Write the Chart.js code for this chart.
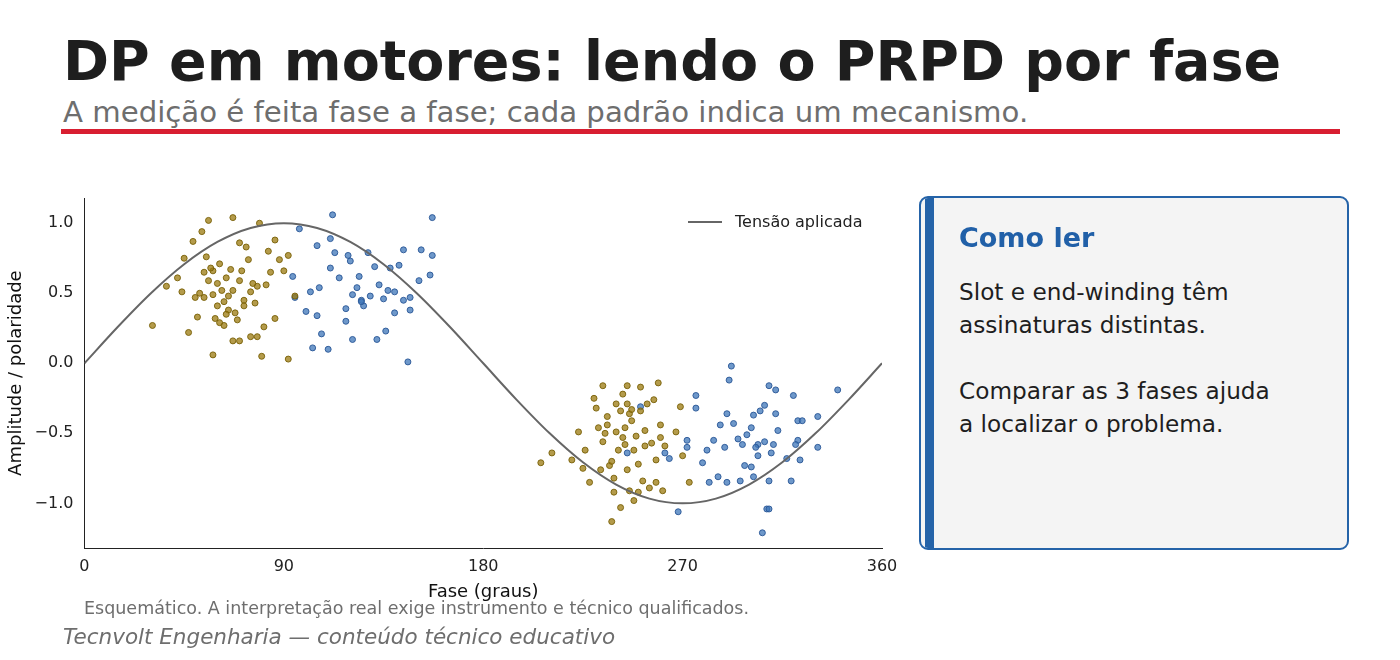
<!DOCTYPE html>
<html><head><meta charset="utf-8">
<script src="https://cdn.jsdelivr.net/npm/chart.js@4.4.1/dist/chart.umd.min.js"></script>
<style>
body{margin:0;width:1400px;height:660px;background:#fff;font-family:"DejaVu Sans",sans-serif;position:relative;overflow:hidden}
#t{position:absolute;left:63px;top:28px;font-size:55.5px;font-weight:bold;color:#1e1e1e;margin:0}
#s{position:absolute;left:63px;top:95px;font-size:29.2px;color:#6e6e6e}
#rl{position:absolute;left:61px;top:129px;width:1279px;height:5px;background:#d81e31}
#cw{position:absolute;left:0;top:185px;width:905px;height:422px}
#lg{position:absolute;left:688px;top:212px;font-size:16px;color:#222;display:flex;align-items:center}
#lg span{display:inline-block;width:34px;height:2px;background:#666;margin-right:13px}
#card{position:absolute;left:919px;top:196px;width:426px;height:350px;border:2px solid #2563a8;border-radius:9px;background:#f4f4f4;overflow:hidden}
#bar{position:absolute;left:4px;top:0;width:9px;height:100%;background:#2563a8}
#ch{position:absolute;left:38px;top:24px;font-size:27px;font-weight:bold;color:#2160a8}
#cb{position:absolute;left:38px;top:77px;font-size:23.2px;line-height:33px;color:#1e1e1e}
#n{position:absolute;left:84px;top:598px;font-size:17.5px;color:#6e6e6e}
#b{position:absolute;left:63px;top:624px;font-size:21.5px;color:#6e6e6e;font-style:italic}
</style></head><body>
<div id="t">DP em motores: lendo o PRPD por fase</div>
<div id="s">A medição é feita fase a fase; cada padrão indica um mecanismo.</div>
<div id="rl"></div>
<div id="cw"><canvas id="c"></canvas></div>
<div id="lg"><span></span>Tensão aplicada</div>
<div id="card"><div id="bar"></div><div id="ch">Como ler</div>
<div id="cb">Slot e end-winding têm<br>assinaturas distintas.<br><br>Comparar as 3 fases ajuda<br>a localizar o problema.</div></div>
<div id="n">Esquemático. A interpretação real exige instrumento e técnico qualificados.</div>
<div id="b">Tecnvolt Engenharia — conteúdo técnico educativo</div>
<script>
const phaseDeg=[0,15,30,45,60,75,90,105,120,135,150,165,180,195,210,225,240,255,270,285,300,315,330,345,360];
const voltage=[0,0.259,0.5,0.707,0.866,0.966,1,0.966,0.866,0.707,0.5,0.259,0,-0.259,-0.5,-0.707,-0.866,-0.966,-1,-0.966,-0.866,-0.707,-0.5,-0.259,0];
const goldUpper=[[30.7,0.27],[37,0.55],[42,0.61],[45,0.75],[49,0.87],[53,0.94],[56,1.02],[67,1.04],[79,1.0],[47,0.22],[51,0.33],[58,0.06],[67,0.16],[70,0.16],[75,0.19],[80,0.05],[92,0.03],[81,0.26],[86,0.32],[88,0.74],[86,0.88],[83,0.8],[92,0.77],[95,0.48],[90,0.66],[44,0.51],[50,0.47],[54,0.47],[58,0.66],[61,0.71],[64,0.61],[59,0.32],[63,0.27],[68,0.36],[72,0.45],[77,0.43],[70,0.86],[73,0.83],[74,0.74],[78,0.55],[82,0.56],[62,0.52],[65,0.48],[56,0.59],[60,0.41],[67,0.52],[70,0.59],[75,0.51],[84,0.65],[54,0.65],[65,0.38],[78,0.19],[57,0.68],[61,0.29],[63,0.44],[69,0.31],[55,0.76],[66,0.67],[72,0.41],[76,0.57],[58,0.49],[52,0.5],[60,0.57],[64,0.35],[71,0.66]];
const blueUpper=[[97,0.96],[112,1.06],[157,1.04],[105,0.84],[111,0.89],[119,0.77],[128,0.79],[131,0.69],[144,0.81],[152,0.81],[157,0.77],[111,0.68],[106,0.54],[102,0.51],[95,0.47],[100,0.37],[105,0.34],[107,0.21],[103,0.11],[110,0.10],[121,0.17],[132,0.17],[136,0.23],[146,0.01],[147,0.38],[140,0.36],[137,0.52],[140,0.51],[144,0.45],[147,0.47],[151,0.59],[156,0.63],[121,0.49],[123,0.54],[125,0.45],[126,0.41],[129,0.48],[133,0.56],[135,0.46],[118,0.39],[115,0.61],[118,0.30],[124,0.62],[138,0.68],[113,0.79],[120,0.73],[142,0.7],[125,0.44],[94,0.62]];
const goldLower=[[206,-0.71],[211,-0.64],[220,-0.69],[223,-0.49],[226,-0.62],[225,-0.75],[228,-0.85],[230,-0.25],[231,-0.32],[232,-0.46],[234,-0.56],[236,-0.44],[237,-0.73],[239,-0.82],[239,-0.92],[238,-1.13],[242,-0.34],[243,-0.22],[245,-0.29],[244,-0.58],[242,-1.03],[245,-0.76],[246,-0.91],[248,-0.98],[250,-0.72],[251,-0.17],[251,-0.34],[253,-0.48],[253,-0.59],[255,-0.89],[257,-0.26],[259,-0.14],[260,-0.44],[262,-0.59],[261,-0.91],[258,-0.69],[240,-0.49],[241,-0.62],[244,-0.46],[247,-0.41],[248,-0.62],[245,-0.16],[252,-0.84],[260,-0.53],[234,-0.16],[267,-0.49],[270,-0.66],[273,-0.85],[269,-0.31],[233,-0.76],[236,-0.38],[240,-0.29],[243,-0.53],[246,-0.36],[249,-0.52],[254,-0.29],[256,-0.57],[238,-0.7],[250,-0.92],[258,-0.85],[235,-0.5],[247,-0.33]];
const blueLower=[[245,-0.64],[251,-0.31],[262,-0.64],[264,-0.68],[268,-1.06],[272,-0.6],[272,-0.55],[276,-0.23],[276,-0.32],[279,-0.71],[281,-0.62],[282,-0.85],[284,-0.55],[286,-0.81],[287,-0.44],[289,-0.6],[290,-0.85],[290,-0.36],[291,-0.12],[292,-0.02],[293,-0.43],[295,-0.54],[296,-0.84],[297,-0.58],[299,-0.51],[301,-0.46],[301,-0.74],[302,-0.81],[302,-0.37],[304,-0.58],[305,-0.34],[306,-1.21],[307,-0.3],[307,-0.56],[308,-1.04],[309,-0.16],[309,-0.84],[311,-0.58],[312,-0.19],[312,-0.36],[313,-0.48],[317,-0.68],[319,-0.84],[320,-0.23],[322,-0.55],[322,-0.41],[323,-0.69],[324,-0.41],[331,-0.38],[331,-0.6],[340,-0.19],[304,-0.66],[298,-0.73],[309,-1.04],[303,-0.6],[310,-0.64],[321,-0.58]];
Chart.defaults.font.family='"DejaVu Sans", sans-serif';
const toPts=a=>a.map(p=>({x:p[0],y:p[1]}));
const gold='rgba(155,122,15,0.75)',goldB='rgba(120,95,5,0.9)',blue='rgba(61,117,184,0.75)',blueB='rgba(40,85,150,0.9)';
const sc=(d,c,b)=>({type:'scatter',data:toPts(d),backgroundColor:c,borderColor:b,borderWidth:1,pointRadius:3});
new Chart(document.getElementById('c'),{
data:{datasets:[
{type:'line',data:phaseDeg.map((x,i)=>({x,y:voltage[i]})),borderColor:'#666',borderWidth:2,pointRadius:0,tension:0.4,cubicInterpolationMode:'monotone'},
sc(goldUpper,gold,goldB),sc(blueUpper,blue,blueB),sc(goldLower,gold,goldB),sc(blueLower,blue,blueB)]},
options:{responsive:true,maintainAspectRatio:false,animation:false,
layout:{padding:{top:13,right:23,left:2,bottom:0}},
plugins:{legend:{display:false},tooltip:{enabled:false}},
scales:{
x:{type:'linear',min:0,max:360,ticks:{stepSize:90,color:'#222',font:{size:16}},grid:{display:false,drawTicks:true,tickLength:6},border:{color:'#222'},
title:{display:true,text:'Fase (graus)',color:'#111',font:{size:18},padding:{top:2}}},
y:{min:-1.32,max:1.18,afterBuildTicks:ax=>{ax.ticks=[-1,-0.5,0,0.5,1].map(v=>({value:v}))},
ticks:{color:'#222',font:{size:16},callback:v=>(v<0?'\u2212':'')+Math.abs(v).toFixed(1)},grid:{display:false},border:{color:'#222'},
title:{display:true,text:'Amplitude / polaridade',color:'#111',font:{size:18}}}}}});
</script></body></html>
